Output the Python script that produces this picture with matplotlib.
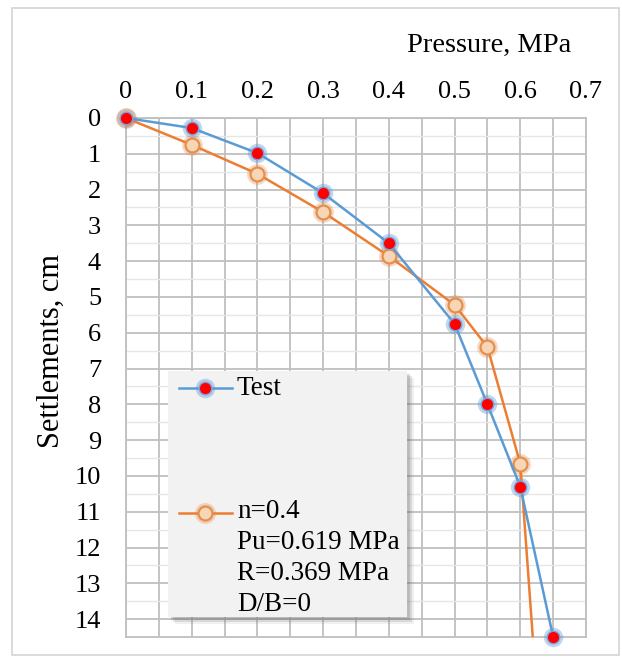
import numpy as np
import matplotlib
matplotlib.use("Agg")
import matplotlib.pyplot as plt
from matplotlib.patches import Rectangle

# data
test_p = [0, 0.1, 0.2, 0.3, 0.4, 0.5, 0.55, 0.6, 0.65]
test_s = [0, 0.28, 0.98, 2.1, 3.5, 5.75, 8.0, 10.3, 14.5]
model_p = [0, 0.1, 0.2, 0.3, 0.4, 0.5, 0.55, 0.6, 0.619]
model_s = [0, 0.75, 1.56, 2.63, 3.86, 5.22, 6.4, 9.66, 14.5]

x_ticks = [0, 0.1, 0.2, 0.3, 0.4, 0.5, 0.6, 0.7]
x_labels = ["0", "0.1", "0.2", "0.3", "0.4", "0.5", "0.6", "0.7"]
y_ticks = list(range(0, 15))

model_text = "n=0.4\nPu=0.619 MPa\nR=0.369 MPa\nD/B=0"

W, H = 622, 662
plt.rcParams['font.family'] = ['Liberation Serif', 'DejaVu Serif']
fs_tick = 19
fs_title = 20.5
fs_leg = 19.5

blue = '#5b9bd5'
orange = '#ed7d31'
peach = '#f8d5b4'

def fx(px):
    return px / W

def fy(py):
    return 1 - py / H

fig = plt.figure(figsize=(W / 100, H / 100), dpi=100)

# outer chart frame
fig.patches.append(Rectangle((fx(12), fy(655)), fx(619) - fx(12), fy(8) - fy(655),
                             transform=fig.transFigure, fill=False,
                             edgecolor='#d4d4d4', linewidth=1.2, zorder=0))

ax = fig.add_axes([fx(126), fy(637), fx(586) - fx(126), fy(118) - fy(637)])
ax.set_zorder(1)
ax.set_xlim(0, 0.7)
ax.set_ylim(14.5, 0)

ax.xaxis.tick_top()
ax.set_xticks(x_ticks)
ax.set_xticklabels(x_labels)
ax.set_xticks(np.arange(0.05, 0.7, 0.1), minor=True)
ax.set_yticks(y_ticks)
ax.set_yticks(np.arange(0.5, 14.5, 1), minor=True)
ax.tick_params(axis='x', which='both', length=0, pad=11, labelsize=fs_tick)
ax.tick_params(axis='y', which='both', length=0, pad=18, labelsize=fs_tick)

ax.grid(True, axis='x', which='both', color='#bfbfbf', linewidth=1.3)
ax.grid(True, axis='y', which='major', color='#bfbfbf', linewidth=1.3)
ax.grid(True, axis='y', which='minor', color='#e6e6e6', linewidth=1.0)
for s in ax.spines.values():
    s.set_color('#bfbfbf')
    s.set_linewidth(1.3)

# glow under markers
ax.plot(test_p, test_s, linestyle='none', marker='o', markersize=14,
        color=blue, alpha=0.4, markeredgewidth=0, clip_on=False, zorder=3)
ax.plot(model_p[:-1], model_s[:-1], linestyle='none', marker='o', markersize=15,
        color=orange, alpha=0.3, markeredgewidth=0, clip_on=False, zorder=3)

ax.plot(test_p, test_s, color=blue, linewidth=1.8, marker='o', markersize=9,
        markerfacecolor='#ff0000', markeredgecolor='#7f9fd8', markeredgewidth=1.0,
        clip_on=False, zorder=5)
ax.plot(model_p, model_s, color=orange, linewidth=1.8, marker='o', markersize=10,
        markerfacecolor=peach, markeredgecolor='#e0914f', markeredgewidth=1.6,
        markevery=list(range(len(model_p) - 1)), zorder=4)

fig.text(fx(489), fy(45), "Pressure, MPa", ha='center', va='center', fontsize=fs_title)
fig.text(fx(51), fy(351), "Settlements, cm", ha='center', va='center',
         rotation=90, fontsize=22)

# legend box with shadow
lx0, lx1, ly0, ly1 = 168, 407, 371, 617
for off, a in [(7, 0.10), (5, 0.18), (3, 0.28)]:
    fig.patches.append(Rectangle((fx(lx0 + off), fy(ly1 + off)), fx(lx1) - fx(lx0),
                                 fy(ly0) - fy(ly1), transform=fig.transFigure,
                                 facecolor='#707070', edgecolor='none', alpha=a,
                                 zorder=2))
lax = fig.add_axes([fx(lx0), fy(ly1), fx(lx1) - fx(lx0), fy(ly0) - fy(ly1)])
lax.set_zorder(3)
lax.set_facecolor('#f2f2f2')
lax.set_xlim(lx0, lx1)
lax.set_ylim(ly1, ly0)
lax.set_xticks([])
lax.set_yticks([])
for s in lax.spines.values():
    s.set_visible(False)

lax.plot([179, 232], [388, 388], color=blue, linewidth=1.8)
lax.plot([205], [388], marker='o', markersize=14, color=blue, alpha=0.4, markeredgewidth=0)
lax.plot([205], [388], marker='o', markersize=9, markerfacecolor='#ff0000',
         markeredgecolor='#7f9fd8', markeredgewidth=1.0)
lax.text(237, 388, "Test", ha='left', va='center', fontsize=fs_leg)

lax.plot([179, 232], [513, 513], color=orange, linewidth=1.8)
lax.plot([205], [513], marker='o', markersize=15, color=orange, alpha=0.3, markeredgewidth=0)
lax.plot([205], [513], marker='o', markersize=10, markerfacecolor=peach,
         markeredgecolor='#e0914f', markeredgewidth=1.6)
lax.text(237, 499, model_text, ha='left', va='top', fontsize=fs_leg, linespacing=1.32)

fig.savefig("out.png", dpi=100)
